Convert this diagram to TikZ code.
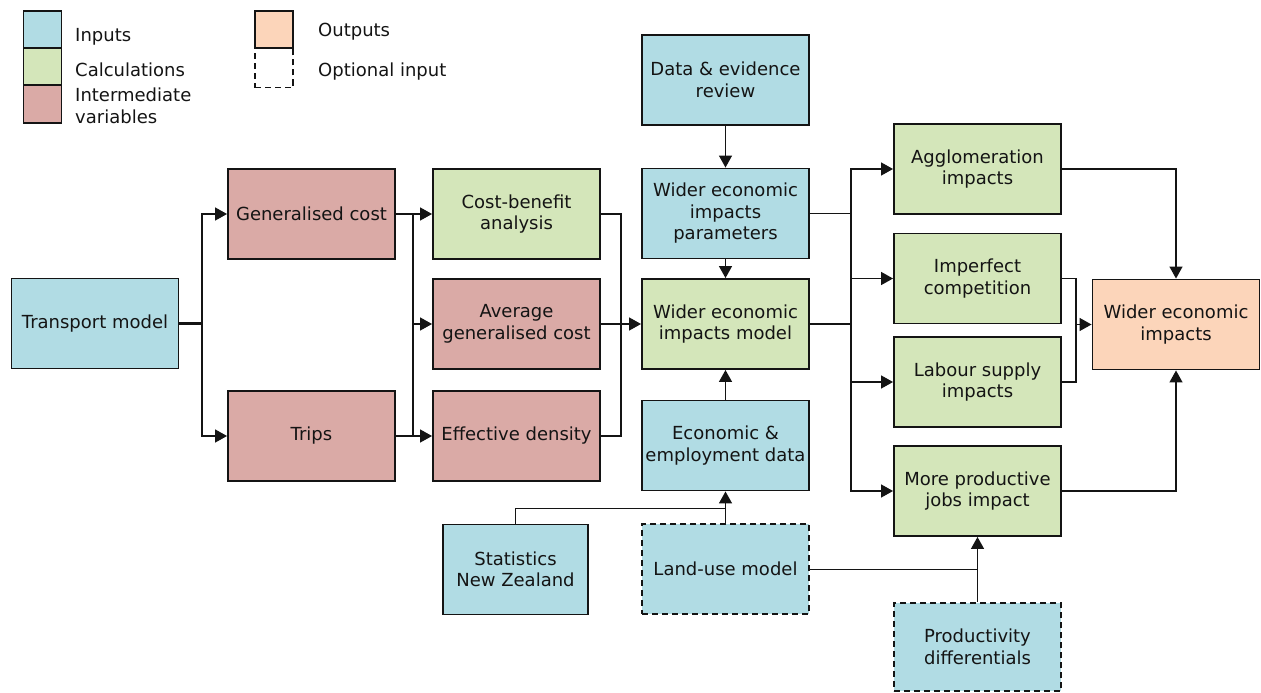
\documentclass[tikz,border=0pt]{standalone}
\usepackage{fontspec}
\setmainfont{DejaVu Sans}
\usetikzlibrary{arrows.meta}
\definecolor{cin}{RGB}{177,220,228}
\definecolor{ccalc}{RGB}{212,230,186}
\definecolor{cint}{RGB}{218,170,166}
\definecolor{cout}{RGB}{252,213,186}
\definecolor{ink}{RGB}{20,20,20}
\begin{document}
\begin{tikzpicture}[x=1pt,y=-1pt,
  txt/.style={text=ink, font=\fontsize{18}{21.5}\selectfont},
  box/.style={txt, draw=ink, line width=1.9pt, minimum width=167pt, minimum height=90pt, inner sep=2pt, align=center},
  inp/.style={box, fill=cin},
  calc/.style={box, fill=ccalc},
  inter/.style={box, fill=cint},
  outp/.style={box, fill=cout},
  opt/.style={dash pattern=on 6pt off 4pt},
  lgbox/.style={draw=ink, line width=1.9pt, minimum width=38pt, minimum height=37pt, inner sep=0pt},
  ln/.style={draw=ink, line width=1.4pt},
  thinln/.style={draw=ink, line width=1pt},
  thickln/.style={draw=ink, line width=2.4pt},
  arr/.style={ln, -{Triangle[length=12pt,width=13pt]}}
]
\useasboundingbox (0,0) rectangle (1261,693);

% legend
\node[lgbox, fill=cin] (lgin) at (42.5,29.5) {};
\node[lgbox, fill=ccalc] (lgcalc) at (42.5,66.5) {};
\node[lgbox, fill=cint, minimum height=38pt] (lgint) at (42.5,104) {};
\node[lgbox, fill=cout] (lgout) at (274,29.5) {};
\node[lgbox, opt, minimum height=39pt] (lgopt) at (274,68) {};
\node[txt, anchor=west, inner sep=0pt] (lt1) at (75,37) {Inputs};
\node[txt, anchor=west, inner sep=0pt] (lt2) at (75,70) {Calculations};
\node[txt, anchor=west, inner sep=0pt, align=left] (lt3) at (75,106) {Intermediate\\variables};
\node[txt, anchor=west, inner sep=0pt] (lt4) at (318,32) {Outputs};
\node[txt, anchor=west, inner sep=0pt] (lt5) at (318,72) {Optional input};

% nodes
\node[inp] (tm) at (95,323.5) {Transport model};
\node[inter] (gc) at (311.5,214) {Generalised cost};
\node[inter] (trips) at (311.5,436) {Trips};
\node[calc] (cba) at (516.5,214) {Cost-benefit\\analysis};
\node[inter] (agc) at (516.5,324) {Average\\generalised cost};
\node[inter] (ed) at (516.5,436) {Effective density};
\node[inp] (der) at (725.5,80) {Data \& evidence\\review};
\node[inp] (wp) at (725.5,213.5) {Wider economic\\impacts\\parameters};
\node[calc] (wm) at (725.5,324) {Wider economic\\impacts model};
\node[inp] (eed) at (725.5,445.5) {Economic \&\\employment data};
\node[inp, minimum width=145pt] (stats) at (515.5,569.5) {Statistics\\New Zealand};
\node[inp, opt] (lu) at (725.5,569) {Land-use model};
\node[calc] (agg) at (977.5,169) {Agglomeration\\impacts};
\node[calc] (imp) at (977.5,278.5) {Imperfect\\competition};
\node[calc] (lab) at (977.5,382) {Labour supply\\impacts};
\node[calc] (mpj) at (977.5,491) {More productive\\jobs impact};
\node[inp, opt, minimum height=88pt] (pd) at (977.5,647) {Productivity\\differentials};
\node[outp] (out) at (1176,324.5) {Wider economic\\impacts};

% connectors
\coordinate (b1) at (202,323.5);
\draw[thickln] (tm.east) -- (b1);
\draw[arr] (b1) |- (gc.west);
\draw[arr] (b1) |- (trips.west);

\coordinate (b2t) at (413,214);
\coordinate (b2m) at (413,324);
\coordinate (b2b) at (413,436);
\draw[arr] (gc.east) -- (cba.west);
\draw[arr] (trips.east) -- (ed.west);
\draw[ln] (b2t) -- (b2b);
\draw[arr] (b2m) -- (agc.west);

\coordinate (b3) at (621,324);
\draw[ln] (cba.east) -| (b3) |- (ed.east);
\draw[arr] (agc.east) -- (wm.west);

\draw[arr] (der.south) -- (wp.north);
\draw[arr] (wp.south) -- (wm.north);
\draw[arr] (eed.north) -- (wm.south);

\coordinate (j1) at (725.5,508);
\draw[thinln] (stats.north) |- (j1);
\draw[arr] (lu.north) -- (eed.south);
\coordinate (j2) at (977.5,569);
\draw[thinln] (lu.east) -- (j2);
\draw[arr] (pd.north) -- (mpj.south);

\coordinate (b4) at (851,324);
\draw[ln] (wp.east) -| (b4);
\draw[thickln] (wm.east) -- (b4);
\draw[arr] (b4) |- (agg.west);
\draw[arr] (b4) |- (imp.west);
\draw[arr] (b4) |- (lab.west);
\draw[arr] (b4) |- (mpj.west);

\draw[arr] (agg.east) -| (out.north);
\draw[arr] (mpj.east) -| (out.south);
\coordinate (b5) at (1076,324.5);
\draw[ln] (imp.east) -| (b5) |- (lab.east);
\draw[arr] (b5) -- (out.west);
\end{tikzpicture}
\end{document}
